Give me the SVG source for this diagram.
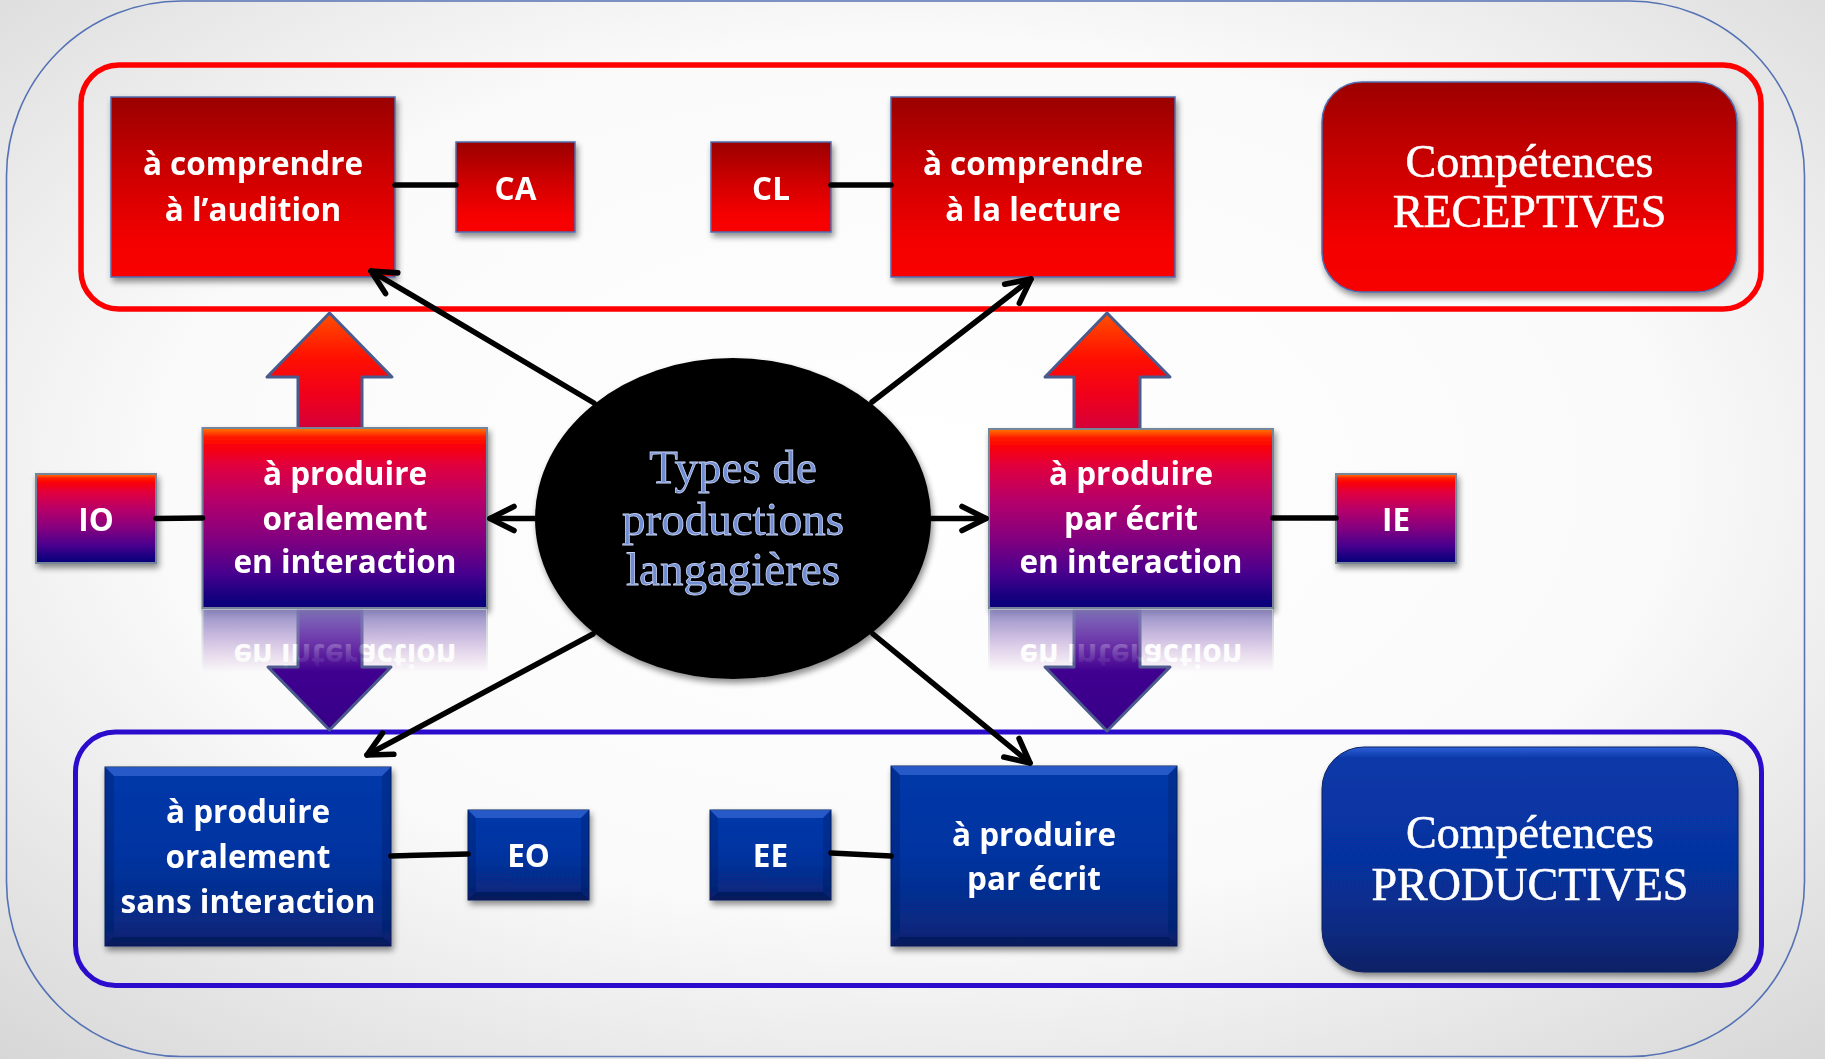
<svg xmlns="http://www.w3.org/2000/svg" xmlns:xlink="http://www.w3.org/1999/xlink" width="1825" height="1059" viewBox="0 0 1825 1059">
<style>
.lbl{font-family:"Open Sans","Liberation Sans",sans-serif;font-weight:700;font-size:31.5px;fill:#fff;text-anchor:middle}
.comp{font-family:"Liberation Serif","Times New Roman",serif;font-size:46px;fill:#fff;stroke:#fff;stroke-width:0.6;text-anchor:middle}
.ctr{font-family:"Liberation Serif","Times New Roman",serif;font-size:47px;fill:#6f8cd2;stroke:#c6d2f2;stroke-width:0.8;text-anchor:middle}
.line{fill:none;stroke:#000;stroke-width:5.5;stroke-linecap:round}
.arr{fill:none;stroke:#000;stroke-width:5.5;stroke-linecap:round;marker-end:url(#ah)}
.redbox{fill:url(#gRed);stroke:#4f6db0;stroke-width:1.5}
.purbox{fill:url(#gPur);stroke:#75859a;stroke-width:2}
.bluebox{fill:url(#gBlue);stroke:#0b1e5c;stroke-width:1}
.blk{stroke:#4a5a8c;stroke-width:3;stroke-linejoin:round}
.bvT{fill:#4676e0;opacity:.55}
.bvB{fill:#051650;opacity:.6}
.bvS{fill:#041a5e;opacity:.3}
</style>
<defs>
<radialGradient id="gBg" cx="50%" cy="45%" r="75%">
<stop offset="0" stop-color="#ffffff"/><stop offset="0.55" stop-color="#fafafa"/><stop offset="1" stop-color="#d6d6d6"/>
</radialGradient>
<linearGradient id="gRed" x1="0" y1="0" x2="0" y2="1">
<stop offset="0" stop-color="#9a0000"/><stop offset="0.45" stop-color="#d00000"/><stop offset="0.8" stop-color="#f40000"/><stop offset="1" stop-color="#fa0000"/>
</linearGradient>
<linearGradient id="gRedR" x1="0" y1="0" x2="0" y2="1">
<stop offset="0" stop-color="#9c0000"/><stop offset="0.4" stop-color="#cc0000"/><stop offset="0.75" stop-color="#f20000"/><stop offset="1" stop-color="#f80000"/>
</linearGradient>
<linearGradient id="gPur" x1="0" y1="0" x2="0" y2="1">
<stop offset="0" stop-color="#ff7a00"/><stop offset="0.05" stop-color="#ff1a00"/><stop offset="0.1" stop-color="#fa0008"/><stop offset="0.2" stop-color="#e2003c"/><stop offset="0.4" stop-color="#b6006a"/><stop offset="0.6" stop-color="#86007e"/><stop offset="0.8" stop-color="#4a008e"/><stop offset="0.95" stop-color="#12007e"/><stop offset="1" stop-color="#0c0078"/>
</linearGradient>
<linearGradient id="gBlue" x1="0" y1="0" x2="0" y2="1">
<stop offset="0" stop-color="#0638aa"/><stop offset="0.5" stop-color="#0533a0"/><stop offset="0.85" stop-color="#072a84"/><stop offset="1" stop-color="#0a2070"/>
</linearGradient>
<linearGradient id="gBlueR" x1="0" y1="0" x2="0" y2="1">
<stop offset="0" stop-color="#3060d8"/><stop offset="0.05" stop-color="#0838a8"/><stop offset="0.5" stop-color="#0632a0"/><stop offset="0.82" stop-color="#082a80"/><stop offset="1" stop-color="#0a2064"/>
</linearGradient>
<linearGradient id="gUp" x1="0" y1="0" x2="0" y2="1">
<stop offset="0" stop-color="#ff5000"/><stop offset="0.35" stop-color="#ff1000"/><stop offset="0.65" stop-color="#f0001c"/><stop offset="1" stop-color="#cc0044"/>
</linearGradient>
<linearGradient id="gDown" x1="0" y1="0" x2="0" y2="1">
<stop offset="0" stop-color="#4c009a"/><stop offset="1" stop-color="#360088"/>
</linearGradient>
<linearGradient id="gFade" gradientUnits="userSpaceOnUse" x1="0" y1="609" x2="0" y2="672">
<stop offset="0" stop-color="#fff" stop-opacity="0.9"/><stop offset="1" stop-color="#fff" stop-opacity="0"/>
</linearGradient>
<mask id="mRefl" maskUnits="userSpaceOnUse" x="0" y="609" width="1825" height="70">
<rect x="0" y="609" width="1825" height="70" fill="url(#gFade)"/>
</mask>
<filter id="sh" x="-10%" y="-10%" width="125%" height="130%">
<feGaussianBlur in="SourceAlpha" stdDeviation="3"/>
<feOffset dx="2" dy="4" result="o"/>
<feComponentTransfer><feFuncA type="linear" slope="0.45"/></feComponentTransfer>
<feMerge><feMergeNode/><feMergeNode in="SourceGraphic"/></feMerge>
</filter>
<marker id="ah" viewBox="0 0 12 12" refX="10.5" refY="6" markerWidth="32" markerHeight="32" markerUnits="userSpaceOnUse" orient="auto">
<path d="M1.5,1.5 L10.5,6 L1.5,10.5" fill="none" stroke="#000" stroke-width="2.1" stroke-linecap="round" stroke-linejoin="round"/>
</marker>
</defs>

<rect x="0" y="0" width="1825" height="1059" fill="url(#gBg)"/>
<rect id="outer-frame" x="6.5" y="1" width="1798" height="1055.5" rx="175" ry="175" fill="none" stroke="#5472b4" stroke-width="1.6"/>

<g id="frames">
<rect id="frame-receptives" x="81" y="65" width="1680" height="244" rx="38" ry="38" fill="none" stroke="#ff0000" stroke-width="5.5"/>
<rect id="frame-productives" x="75.5" y="732" width="1686" height="253.5" rx="40" ry="40" fill="none" stroke="#2c0ccc" stroke-width="5"/>
</g>

<g id="connectors-block-arrows">
<polygon id="up-left" class="blk" fill="url(#gUp)" points="329.5,313 392,377 362,377 362,440 298,440 298,377 267,377"/>
<polygon id="up-right" class="blk" fill="url(#gUp)" points="1107,313 1170,377 1140,377 1140,440 1074,440 1074,377 1045,377"/>
<polygon id="down-left" class="blk" fill="url(#gDown)" points="298,600 362,600 362,667 391,667 329.5,730 268,667 298,667"/>
<polygon id="down-right" class="blk" fill="url(#gDown)" points="1074,600 1140,600 1140,667 1170,667 1107,731 1045,667 1074,667"/>
</g>

<g id="nodes">
<g id="node-comprendre-audition" filter="url(#sh)">
<rect class="redbox" x="111" y="97" width="284" height="180"/>
<text class="lbl" x="253" y="175">à comprendre</text>
<text class="lbl" x="253" y="220.5">à l’audition</text>
</g>
<g id="node-CA" filter="url(#sh)">
<rect class="redbox" x="456" y="142" width="119" height="90"/>
<text class="lbl" x="515.5" y="199.5">CA</text>
</g>
<g id="node-CL" filter="url(#sh)">
<rect class="redbox" x="711" y="142" width="120" height="90"/>
<text class="lbl" x="771" y="199.5">CL</text>
</g>
<g id="node-comprendre-lecture" filter="url(#sh)">
<rect class="redbox" x="891" y="97" width="284" height="180"/>
<text class="lbl" x="1033" y="175">à comprendre</text>
<text class="lbl" x="1033" y="220.5">à la lecture</text>
</g>
<g id="node-receptives" filter="url(#sh)">
<rect x="1322" y="82" width="415" height="210" rx="40" ry="40" fill="url(#gRedR)" stroke="#4f6db0" stroke-width="1.5"/>
<text class="comp" x="1529.5" y="177">Compétences</text>
<text class="comp" x="1529.5" y="227">RECEPTIVES</text>
</g>

<g id="node-IO" filter="url(#sh)">
<rect class="purbox" x="36" y="474" width="120" height="89"/>
<text class="lbl" x="96" y="531">IO</text>
</g>
<g id="node-prod-oral-inter" filter="url(#sh)">
<g id="face-prod-oral-inter">
<rect class="purbox" x="202.5" y="428" width="284.5" height="180"/>
<text class="lbl" x="345" y="485">à produire</text>
<text class="lbl" x="345" y="530">oralement</text>
<text class="lbl" x="345" y="573">en interaction</text>
</g>
</g>
<g id="node-center" filter="url(#sh)">
<ellipse cx="733" cy="518.5" rx="198" ry="160.5" fill="#000"/>
<text class="ctr" x="733" y="483">Types de</text>
<text class="ctr" x="733" y="535">productions</text>
<text class="ctr" x="733" y="585">langagières</text>
</g>
<g id="node-prod-ecrit-inter" filter="url(#sh)">
<g id="face-prod-ecrit-inter">
<rect class="purbox" x="989" y="429" width="284" height="179"/>
<text class="lbl" x="1131" y="485">à produire</text>
<text class="lbl" x="1131" y="530">par écrit</text>
<text class="lbl" x="1131" y="573">en interaction</text>
</g>
</g>
<g id="node-IE" filter="url(#sh)">
<rect class="purbox" x="1336" y="474" width="120" height="89"/>
<text class="lbl" x="1396" y="531">IE</text>
</g>

<g id="node-prod-oral" filter="url(#sh)">
<rect class="bluebox" x="105" y="767" width="286" height="179"/>
<polygon class="bvT" points="105,767 391,767 382,776 114,776"/>
<polygon class="bvB" points="105,946 391,946 382,937 114,937"/>
<polygon class="bvS" points="105,767 114,776 114,937 105,946"/>
<polygon class="bvS" points="391,767 382,776 382,937 391,946"/>
<text class="lbl" x="248" y="823">à produire</text>
<text class="lbl" x="248" y="868">oralement</text>
<text class="lbl" x="248" y="913">sans interaction</text>
</g>
<g id="node-EO" filter="url(#sh)">
<rect class="bluebox" x="468" y="810" width="121" height="90"/>
<polygon class="bvT" points="468,810 589,810 581,818 476,818"/>
<polygon class="bvB" points="468,900 589,900 581,892 476,892"/>
<polygon class="bvS" points="468,810 476,818 476,892 468,900"/>
<polygon class="bvS" points="589,810 581,818 581,892 589,900"/>
<text class="lbl" x="528.5" y="866.5">EO</text>
</g>
<g id="node-EE" filter="url(#sh)">
<rect class="bluebox" x="710" y="810" width="121" height="90"/>
<polygon class="bvT" points="710,810 831,810 823,818 718,818"/>
<polygon class="bvB" points="710,900 831,900 823,892 718,892"/>
<polygon class="bvS" points="710,810 718,818 718,892 710,900"/>
<polygon class="bvS" points="831,810 823,818 823,892 831,900"/>
<text class="lbl" x="770.5" y="866.5">EE</text>
</g>
<g id="node-prod-ecrit" filter="url(#sh)">
<rect class="bluebox" x="891" y="766" width="286" height="180"/>
<polygon class="bvT" points="891,766 1177,766 1168,775 900,775"/>
<polygon class="bvB" points="891,946 1177,946 1168,937 900,937"/>
<polygon class="bvS" points="891,766 900,775 900,937 891,946"/>
<polygon class="bvS" points="1177,766 1168,775 1168,937 1177,946"/>
<text class="lbl" x="1034" y="846">à produire</text>
<text class="lbl" x="1034" y="890">par écrit</text>
</g>
<g id="node-productives" filter="url(#sh)">
<rect x="1322" y="747" width="416" height="225" rx="42" ry="42" fill="url(#gBlueR)" stroke="#0c2060" stroke-width="1"/>
<text class="comp" x="1530" y="848">Compétences</text>
<text class="comp" x="1530" y="900">PRODUCTIVES</text>
</g>
</g>

<g id="reflections" mask="url(#mRefl)">
<rect x="202.5" y="609" width="284.5" height="70" fill="#fff"/>
<use xlink:href="#face-prod-oral-inter" transform="matrix(1 0 0 -1 0 1217)" opacity="0.5"/>
<rect x="989" y="609" width="284" height="70" fill="#fff"/>
<use xlink:href="#face-prod-ecrit-inter" transform="matrix(1 0 0 -1 0 1217)" opacity="0.5"/>
</g>

<g id="connectors">
<line class="line" x1="395" y1="185" x2="456" y2="185"/>
<line class="line" x1="831" y1="185" x2="891" y2="185"/>
<line class="line" x1="156" y1="518.5" x2="202.5" y2="518"/>
<line class="line" x1="1273" y1="518" x2="1336" y2="518"/>
<line class="line" x1="391" y1="856" x2="468" y2="854"/>
<line class="line" x1="831" y1="853" x2="891" y2="856"/>
<line class="arr" x1="594" y1="403" x2="371" y2="271"/>
<line class="arr" x1="872" y1="402" x2="1031" y2="279"/>
<line class="arr" x1="593" y1="634" x2="367" y2="755"/>
<line class="arr" x1="873" y1="634" x2="1030" y2="763"/>
<line class="arr" x1="536" y1="518.5" x2="490" y2="518.5"/>
<line class="arr" x1="930" y1="518.5" x2="986" y2="518.5"/>
</g>
</svg>
